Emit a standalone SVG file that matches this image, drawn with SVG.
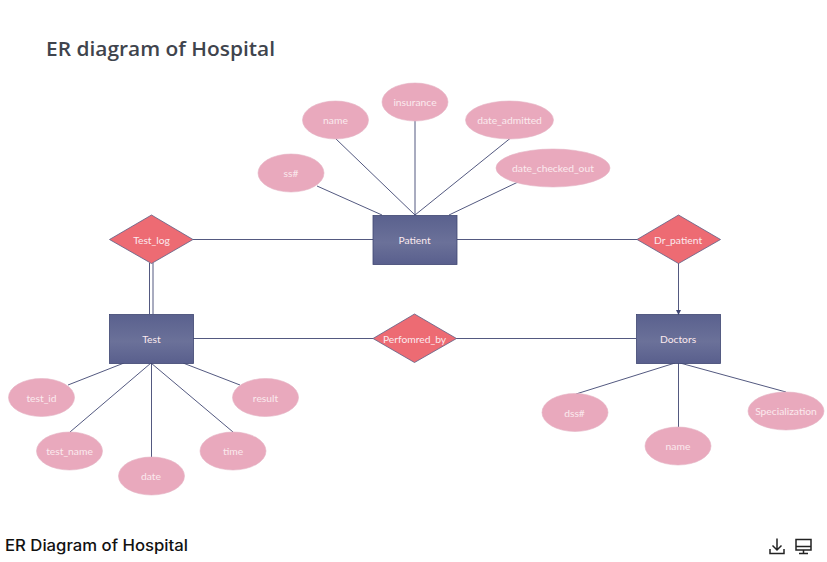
<svg xmlns="http://www.w3.org/2000/svg" width="827" height="562" viewBox="0 0 827 562">
<style>
.c{fill:none;stroke:#3f4672;stroke-width:.9}
.a ellipse{fill:#e9a9bd;stroke:#e4b3c4;stroke-width:.6}
.e rect{fill:url(#eg);stroke:#3f4672;stroke-width:.8}
.r polygon{fill:#ed6b73;stroke:#5d5f85;stroke-width:.8}
.l{font-family:Lato,"Liberation Sans",sans-serif;font-size:10.3px;fill:#fbe9ee;text-anchor:middle}
.i{fill:none;stroke:#222;stroke-width:1.5}
</style>
<defs>
<linearGradient id="eg" x1="0" y1="0" x2="0" y2="1"><stop offset="0" stop-color="#5a618e"/><stop offset=".55" stop-color="#6b7199"/><stop offset="1" stop-color="#595f8d"/></linearGradient>
<marker id="ah" markerUnits="userSpaceOnUse" markerWidth="6" markerHeight="6" refX="5" refY="2.500" orient="auto"><path d="M0 0L5 2.500L0 5Z" fill="#3f4672"/></marker>
</defs>
<rect width="827" height="562" fill="#fff"/>
<text x="46" y="56" font-family="'Open Sans','Liberation Sans',sans-serif" font-weight="600" font-size="20.500px" fill="#3f444d" textLength="229" lengthAdjust="spacingAndGlyphs">ER diagram of Hospital</text>
<g id="connectors">
<path class="c" d="M317 186L382 215M335.500 138.500L415 215M415 121V215M510 138.500L415 215M518 182L449 215"/>
<path class="c" d="M193 239.500H373M457 239.500H637"/>
<path class="c" d="M149.500 263V314M153 263V314"/>
<path class="c" d="M678.500 263V315" marker-end="url(#ah)"/>
<path class="c" d="M193 338.500H373M456 338.500H636"/>
<path class="c" d="M124 363L68 385M151 363L70 432M151.500 363V457M151 363L233 432M183 363L240 385"/>
<path class="c" d="M675 363L576 394M678.500 363V427M680 363L786 392"/>
</g>
<g id="ss" class="a"><ellipse cx="291" cy="173" rx="33" ry="19"/><text class="l" x="291" y="177">ss#</text></g>
<g id="name" class="a"><ellipse cx="335.500" cy="120" rx="33" ry="19"/><text class="l" x="335.500" y="123.500">name</text></g>
<g id="insurance" class="a"><ellipse cx="415" cy="102" rx="33" ry="19"/><text class="l" x="415" y="105.500">insurance</text></g>
<g id="date_admitted" class="a"><ellipse cx="509.500" cy="120" rx="44" ry="19"/><text class="l" x="509.500" y="123.500">date_admitted</text></g>
<g id="date_checked_out" class="a"><ellipse cx="553" cy="168" rx="57" ry="19"/><text class="l" x="553" y="171.500">date_checked_out</text></g>
<g id="patient" class="e"><rect x="373" y="215.500" width="84" height="49"/><text class="l" x="414.500" y="243.500">Patient</text></g>
<g id="test_log" class="r"><polygon points="151.500,215 193,239.500 151.500,263.500 109.500,239.500"/><text class="l" x="151.500" y="243.500">Test_log</text></g>
<g id="dr_patient" class="r"><polygon points="678.500,215 720.500,239.500 678.500,263.500 637,239.500"/><text class="l" x="678" y="243.500">Dr_patient</text></g>
<g id="test" class="e"><rect x="109.500" y="314.500" width="84" height="49"/><text class="l" x="151.500" y="342.500">Test</text></g>
<g id="performed_by" class="r"><polygon points="414.500,314 456.500,338.500 414.500,362.500 373,338.500"/><text class="l" x="414.500" y="342.500">Perfomred_by</text></g>
<g id="doctors" class="e"><rect x="636.500" y="314.500" width="84" height="49"/><text class="l" x="678" y="342.500">Doctors</text></g>
<g id="test_id" class="a"><ellipse cx="41.500" cy="397.500" rx="33" ry="19"/><text class="l" x="41.500" y="401.500">test_id</text></g>
<g id="test_name" class="a"><ellipse cx="69.500" cy="451" rx="33" ry="19"/><text class="l" x="69.500" y="455">test_name</text></g>
<g id="date" class="a"><ellipse cx="151.500" cy="476" rx="33" ry="19"/><text class="l" x="151" y="480">date</text></g>
<g id="time" class="a"><ellipse cx="233" cy="451" rx="33" ry="19"/><text class="l" x="233" y="455">time</text></g>
<g id="result" class="a"><ellipse cx="265.500" cy="397.500" rx="33" ry="19"/><text class="l" x="265.500" y="401.500">result</text></g>
<g id="dss" class="a"><ellipse cx="575" cy="412.500" rx="33" ry="19"/><text class="l" x="574.500" y="416.500">dss#</text></g>
<g id="dname" class="a"><ellipse cx="678" cy="446" rx="33" ry="19"/><text class="l" x="678" y="450">name</text></g>
<g id="specialization" class="a"><ellipse cx="786" cy="411" rx="38" ry="19"/><text class="l" x="786" y="415">Specialization</text></g>
<text x="5" y="551" font-family="Inter,'Open Sans','Liberation Sans',sans-serif" font-weight="500" font-size="15.500px" fill="#111" textLength="183" lengthAdjust="spacingAndGlyphs">ER Diagram of Hospital</text>
<path class="i" d="M777 538.500V550M772.500 545.500L777 550L781.500 545.500M770 549V553.500H784V549"/>
<path class="i" d="M796 539.500H811V550H796ZM796 546.500H811M803.500 550V553.500M799 553.500H808"/>
</svg>
